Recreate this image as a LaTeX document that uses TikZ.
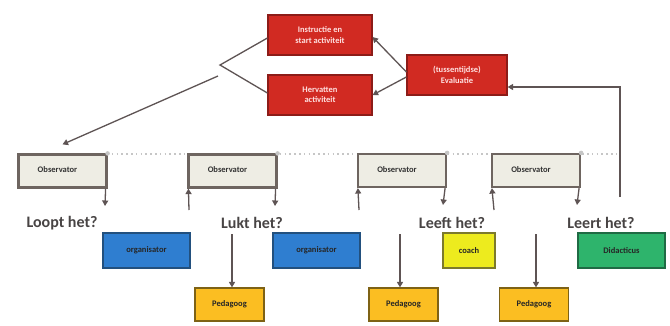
\documentclass[tikz,border=0pt]{standalone}
\usepackage{fontspec}
\setmainfont{Carlito}
\usetikzlibrary{arrows.meta}
\definecolor{lnc}{HTML}{5E5454}
\definecolor{redf}{HTML}{D12A22}
\definecolor{redd}{HTML}{8C1C18}
\definecolor{obsf}{HTML}{EEEDE4}
\definecolor{obsd}{HTML}{6E6560}
\definecolor{bluef}{HTML}{2F7ED0}
\definecolor{blued}{HTML}{22507E}
\definecolor{yelf}{HTML}{EDEB1E}
\definecolor{yeld}{HTML}{7C7A2C}
\definecolor{grnf}{HTML}{2EB46C}
\definecolor{grnd}{HTML}{1F6B44}
\definecolor{orf}{HTML}{FBBE22}
\definecolor{ord}{HTML}{7E6215}
\definecolor{lbl}{HTML}{484444}
\tikzset{
  redbox/.style={draw=redd, line width=1.2pt, fill=redf, minimum width=104pt, minimum height=40pt,
    inner sep=1pt, align=center, font=\bfseries\fontsize{8.5}{10.5}\selectfont, text=white!88!red},
  obsbox/.style={draw=obsd, line width=2.2pt, fill=obsf, minimum width=88pt, minimum height=33pt,
    inner sep=1pt, font=\bfseries\fontsize{8.5}{10}\selectfont, text=black!80},
  colbox/.style={line width=1.2pt, minimum height=35pt, inner sep=1pt,
    font=\bfseries\fontsize{8.5}{10}\selectfont, text=black!85},
  pedbox/.style={colbox, draw=ord, fill=orf, minimum width=69pt, minimum height=33pt},
  qlabel/.style={font=\bfseries\fontsize{16}{18}\selectfont, text=lbl, inner sep=0pt},
  conn/.style={draw=lnc, line width=1.3pt},
  arr/.style={conn, -{Triangle[width=6pt,length=5.5pt]}},
  dotline/.style={draw=gray!45, line width=1.4pt, dash pattern=on 1.6pt off 3.2pt},
  dotend/.style={circle, fill=gray!45, inner sep=0pt, minimum size=4.5pt}
}
\begin{document}
\begin{tikzpicture}[x=1pt, y=-1pt]
\useasboundingbox (0,0) rectangle (670,325);
\fill[white] (0,0) rectangle (670,325);

% dotted line behind observators
\coordinate (dstart) at (107,154);
\coordinate (dend) at (616,154);
\draw[dotline] (dstart) -- (dend);

% red boxes
\node[redbox] (instr) at (320,35) {Instructie en\\start activiteit};
\node[redbox] (herv) at (320,95) {Hervatten\\activiteit};
\node[redbox, minimum width=100pt] (eval) at (457,75) {(tussentijdse)\\Evaluatie};

% observators
\node[obsbox] (o1) at (62.5,171) {\raisebox{2pt}{Observator}\hspace*{10pt}};
\node[obsbox] (o2) at (232.5,171) {\raisebox{2pt}{Observator}\hspace*{10pt}};
\node[obsbox] (o3) at (402,170.5) {\raisebox{2pt}{Observator}\hspace*{10pt}};
\node[obsbox] (o4) at (536,170.5) {\raisebox{2pt}{Observator}\hspace*{10pt}};
\foreach \o in {o1,o2,o3,o4}{\node[dotend] at (\o.north east) {};}

% questions
\node[qlabel] (q1) at (62,223) {Loopt het?};
\node[qlabel] (q2) at (252,223) {Lukt het?};
\node[qlabel] (q3) at (452,223) {Leeft het?};
\node[qlabel] (q4) at (601,223) {Leert het?};

% bottom boxes
\node[colbox, draw=blued, fill=bluef, minimum width=87pt] (org1) at (146.5,250.5) {organisator};
\node[colbox, draw=blued, fill=bluef, minimum width=87pt] (org2) at (316.5,250.5) {organisator};
\node[colbox, draw=yeld, fill=yelf, minimum width=52pt] (coach) at (469,250.5) {coach};
\node[colbox, draw=grnd, fill=grnf, minimum width=87pt] (didac) at (621.5,250.5) {Didacticus};
\node[pedbox] (ped1) at (229.5,304.5) {Pedagoog};
\node[pedbox] (ped2) at (403.5,304.5) {Pedagoog};
\node[pedbox] (ped3) at (534,304.5) {Pedagoog};

% V connector and arrow to first observator
\coordinate (apex) at (220,65);
\coordinate (s1) at (218,76);
\draw[conn] ([yshift=-3pt]instr.west) -- (apex) -- ([yshift=2pt]herv.west);
\draw[arr] (s1) -- ([yshift=9pt]o1.north);

% evaluation arrows
\draw[arr] ([yshift=3pt]eval.west) -- ([yshift=-2pt]instr.east);
\draw[arr] ([yshift=-2pt]eval.west) -- (herv.east);
\coordinate (r1) at (620,197);
\draw[arr] (r1) |- ([yshift=-12pt]eval.east);

% observator down arrows
\coordinate (d1) at (105,206);
\coordinate (d2) at (275,206);
\coordinate (d3) at (443,205);
\coordinate (d4) at (577,205);
\draw[arr] ([xshift=-2pt]o1.south east) -- (d1);
\draw[arr] ([xshift=-2pt]o2.south east) -- (d2);
\draw[arr] ([xshift=-2pt]o3.south east) -- (d3);
\draw[arr] ([xshift=-2pt]o4.south east) -- (d4);

% observator up arrows
\coordinate (u2) at (189,210);
\coordinate (u3) at (359,210);
\coordinate (u4) at (494,210);
\draw[arr] (u2) -- ([xshift=1pt]o2.south west);
\draw[arr] (u3) -- ([xshift=1pt]o3.south west);
\draw[arr] (u4) -- ([xshift=1pt]o4.south west);

% arrows to pedagoog
\coordinate (p1) at (232,234);
\coordinate (p2) at (400,234);
\coordinate (p3) at (536,234);
\draw[arr] (p1) -- (p1 |- ped1.north);
\draw[arr] (p2) -- (p2 |- ped2.north);
\draw[arr] (p3) -- (p3 |- ped3.north);
\end{tikzpicture}
\end{document}
